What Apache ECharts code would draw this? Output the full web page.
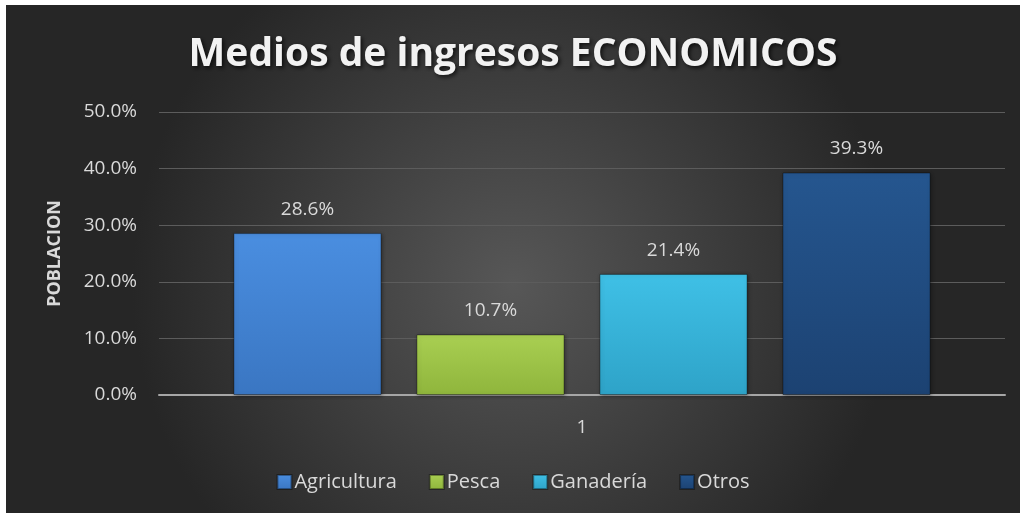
<!DOCTYPE html>
<html>
<head>
<meta charset="utf-8">
<script src="https://cdn.jsdelivr.net/npm/echarts@6/dist/echarts.min.js"></script>
<style>
  html, body { margin: 0; padding: 0; background: #ffffff; }
  #echarts { position: absolute; left: 6px; top: 5px; width: 1014px; height: 508px; }
</style>
</head>
<body>
<div id="echarts"></div>
<script>
var categories = ['1'];
var seriesNames = ['Agricultura', 'Pesca', 'Ganadería', 'Otros'];
var seriesValues = [28.6, 10.7, 21.4, 39.3];
var seriesColors = [
    ['#4a8ee0', '#3a76c2'],
    ['#a9cf52', '#8fb53c'],
    ['#3fc0e6', '#2ea3c8'],
    ['#25568f', '#1c4272']
];
var yTicks = [0, 10, 20, 30, 40, 50];

var myChart = echarts.init(document.getElementById('echarts'));

var series = seriesNames.map(function (name, i) {
    return {
        name: name,
        type: 'bar',
        data: [seriesValues[i]],
        barGap: '23.6%',
        barCategoryGap: '17.6%',
        itemStyle: {
            color: new echarts.graphic.LinearGradient(0, 0, 0, 1, [
                {offset: 0, color: seriesColors[i][0]},
                {offset: 1, color: seriesColors[i][1]}
            ]),
            borderColor: 'rgba(0,0,0,0.35)',
            borderWidth: 1,
            shadowColor: 'rgba(0,0,0,0.4)',
            shadowBlur: 4,
            shadowOffsetX: 1,
            shadowOffsetY: 1
        },
        label: {
            show: true,
            position: 'top',
            distance: 14,
            color: '#d9d9d9',
            fontFamily: 'Open Sans',
            fontSize: 19,
            formatter: function (p) {
                return p.value.toFixed(1) + '%';
            }
        }
    };
});

var option = {
    backgroundColor: new echarts.graphic.RadialGradient(0.5, 0.55, 0.75, [
        {offset: 0, color: '#575757'},
        {offset: 1, color: '#262626'}
    ]),
    title: {
        text: 'Medios de ingresos ECONOMICOS',
        left: 'center',
        top: 25,
        textStyle: {
            color: '#f2f2f2',
            fontFamily: 'Open Sans',
            fontWeight: 'bold',
            fontSize: 39,
            textShadowColor: 'rgba(0,0,0,0.7)',
            textShadowBlur: 4,
            textShadowOffsetX: 2,
            textShadowOffsetY: 2
        }
    },
    legend: {
        bottom: 16,
        left: 'center',
        itemWidth: 14,
        itemHeight: 14,
        itemGap: 32,
        icon: 'rect',
        textStyle: {
            color: '#d9d9d9',
            fontFamily: 'Open Sans',
            fontSize: 20,
            padding: [0, 0, 0, -2]
        },
        data: seriesNames
    },
    grid: {
        left: 153,
        right: 15,
        top: 107,
        bottom: 118
    },
    xAxis: {
        type: 'category',
        data: categories,
        axisLine: {lineStyle: {color: '#a6a6a6', width: 2}},
        axisTick: {show: false},
        axisLabel: {
            color: '#d9d9d9',
            fontFamily: 'Open Sans',
            fontSize: 19,
            margin: 23
        }
    },
    yAxis: {
        type: 'value',
        min: yTicks[0],
        max: yTicks[yTicks.length - 1],
        interval: 10,
        name: 'POBLACION',
        nameLocation: 'middle',
        nameGap: 95,
        nameTextStyle: {
            color: '#d9d9d9',
            fontFamily: 'Open Sans',
            fontWeight: 'bold',
            fontSize: 18
        },
        axisLine: {show: false},
        axisTick: {show: false},
        splitLine: {lineStyle: {color: '#5c5c5c', width: 1}},
        axisLabel: {
            color: '#d9d9d9',
            fontFamily: 'Open Sans',
            fontSize: 19,
            margin: 22,
            formatter: function (v) {
                return v.toFixed(1) + '%';
            }
        }
    },
    series: series
};

myChart.setOption(option);
</script>
</body>
</html>
